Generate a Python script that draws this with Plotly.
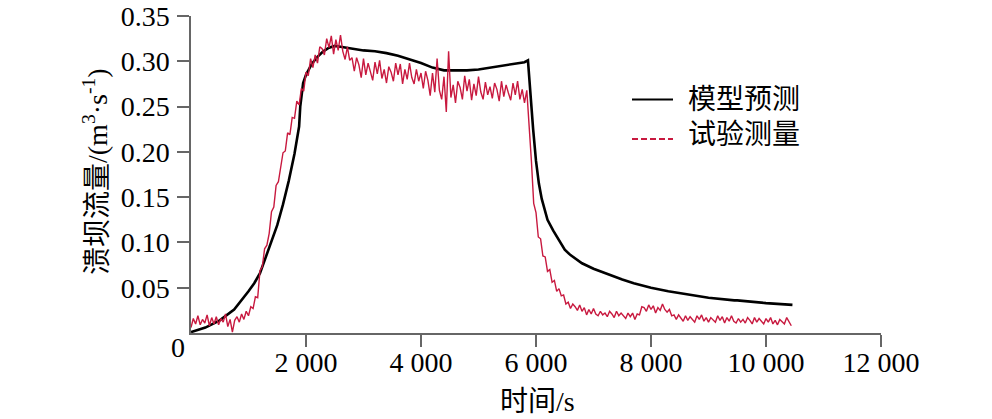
import plotly.graph_objects as go

# ---------------- data ----------------
model_t = [0, 250, 500, 750, 1000, 1100, 1200, 1300, 1400, 1500, 1600, 1700, 1800, 1850,
           1880, 1900, 1950, 2000, 2100, 2200, 2300, 2400, 2500, 2600, 2800, 3000, 3200,
           3400, 3600, 3800, 4000, 4200, 4400, 4600, 4800, 5000, 5200, 5400, 5600, 5800,
           5860, 5900, 5950, 6000, 6050, 6100, 6200, 6300, 6400, 6500, 6600, 6800, 7000,
           7200, 7500, 7700, 8000, 8300, 8500, 8850, 9000, 9450, 9500, 10000, 10460]
model_q = [0.001, 0.006, 0.014, 0.026, 0.046, 0.055, 0.066, 0.083, 0.100, 0.119, 0.142,
           0.168, 0.198, 0.215, 0.228, 0.250, 0.276, 0.285, 0.297, 0.305, 0.311, 0.315,
           0.317, 0.316, 0.314, 0.312, 0.311, 0.309, 0.306, 0.302, 0.298, 0.293, 0.290,
           0.290, 0.290, 0.291, 0.293, 0.295, 0.297, 0.299, 0.301, 0.265, 0.225, 0.190,
           0.165, 0.148, 0.125, 0.113, 0.102, 0.092, 0.086, 0.077, 0.071, 0.066, 0.059,
           0.055, 0.050, 0.046, 0.044, 0.040, 0.039, 0.036, 0.036, 0.033, 0.031]

meas_t = [
    0, 40, 80, 120, 160, 200, 240, 280, 320, 360,
    400, 440, 480, 520, 560, 600, 640, 680, 720, 760,
    800, 840, 880, 920, 960, 1000, 1040, 1080, 1120, 1160,
    1200, 1240, 1280, 1320, 1360, 1400, 1440, 1480, 1520, 1560,
    1600, 1640, 1680, 1720, 1760, 1800, 1840, 1880, 1920, 1960,
    2000, 2040, 2080, 2120, 2160, 2200, 2240, 2280, 2320, 2360,
    2400, 2440, 2480, 2520, 2560, 2600, 2640, 2680, 2720, 2760,
    2800, 2840, 2880, 2920, 2960, 3000, 3040, 3080, 3120, 3160,
    3200, 3240, 3280, 3320, 3360, 3400, 3440, 3480, 3520, 3560,
    3600, 3640, 3680, 3720, 3760, 3800, 3840, 3880, 3920, 3960,
    4000, 4040, 4080, 4120, 4160, 4200, 4240, 4280, 4320, 4360,
    4400, 4440, 4480, 4520, 4560, 4600, 4640, 4680, 4720, 4760,
    4800, 4840, 4880, 4920, 4960, 5000, 5040, 5080, 5120, 5160,
    5200, 5240, 5280, 5320, 5360, 5400, 5440, 5480, 5520, 5560,
    5600, 5640, 5680, 5720, 5760, 5800, 5840, 5880, 5920, 5960,
    6000, 6040, 6080, 6120, 6160, 6200, 6240, 6280, 6320, 6360,
    6400, 6440, 6480, 6520, 6560, 6600, 6640, 6680, 6720, 6760,
    6800, 6840, 6880, 6920, 6960, 7000, 7040, 7080, 7120, 7160,
    7200, 7240, 7280, 7320, 7360, 7400, 7440, 7480, 7520, 7560,
    7600, 7640, 7680, 7720, 7760, 7800, 7840, 7880, 7920, 7960,
    8000, 8040, 8080, 8120, 8160, 8200, 8240, 8280, 8320, 8360,
    8400, 8440, 8480, 8520, 8560, 8600, 8640, 8680, 8720, 8760,
    8800, 8840, 8880, 8920, 8960, 9000, 9040, 9080, 9120, 9160,
    9200, 9240, 9280, 9320, 9360, 9400, 9440, 9480, 9520, 9560,
    9600, 9640, 9680, 9720, 9760, 9800, 9840, 9880, 9920, 9960,
    10000, 10040, 10080, 10120, 10160, 10200, 10240, 10280, 10320, 10360,
    10400, 10440,
]
meas_q = [
    0.006, 0.016, 0.010, 0.019, 0.009, 0.015, 0.011, 0.020, 0.008, 0.017,
    0.010, 0.018, 0.009, 0.016, 0.012, 0.021, 0.007, 0.015, 0.001, 0.014,
    0.018, 0.012, 0.021, 0.015, 0.024, 0.019, 0.029, 0.027, 0.040, 0.039,
    0.069, 0.073, 0.093, 0.097, 0.110, 0.134, 0.139, 0.163, 0.167, 0.184,
    0.199, 0.201, 0.221, 0.219, 0.238, 0.237, 0.256, 0.252, 0.270, 0.267,
    0.288, 0.284, 0.303, 0.293, 0.307, 0.298, 0.316, 0.314, 0.307, 0.325,
    0.315, 0.328, 0.308, 0.324, 0.312, 0.329, 0.311, 0.302, 0.316, 0.301,
    0.304, 0.289, 0.304, 0.296, 0.282, 0.303, 0.285, 0.298, 0.288, 0.279,
    0.299, 0.286, 0.301, 0.281, 0.291, 0.276, 0.294, 0.288, 0.278, 0.298,
    0.285, 0.297, 0.275, 0.291, 0.280, 0.298, 0.282, 0.275, 0.291, 0.278,
    0.287, 0.270, 0.289, 0.279, 0.262, 0.287, 0.266, 0.303, 0.268, 0.258,
    0.283, 0.244, 0.311, 0.260, 0.274, 0.254, 0.278, 0.271, 0.258, 0.284,
    0.267, 0.280, 0.257, 0.275, 0.262, 0.283, 0.266, 0.258, 0.277, 0.263,
    0.272, 0.259, 0.276, 0.269, 0.256, 0.278, 0.261, 0.274, 0.265, 0.257,
    0.276, 0.263, 0.278, 0.258, 0.269, 0.254, 0.268, 0.232, 0.190, 0.143,
    0.133, 0.106, 0.104, 0.085, 0.084, 0.068, 0.070, 0.056, 0.058, 0.046,
    0.049, 0.041, 0.042, 0.032, 0.034, 0.027, 0.032, 0.029, 0.025, 0.031,
    0.024, 0.028, 0.020, 0.026, 0.021, 0.027, 0.021, 0.019, 0.024, 0.020,
    0.022, 0.018, 0.024, 0.021, 0.017, 0.024, 0.019, 0.022, 0.019, 0.016,
    0.022, 0.018, 0.022, 0.015, 0.021, 0.020, 0.029, 0.028, 0.024, 0.031,
    0.026, 0.030, 0.022, 0.028, 0.025, 0.032, 0.026, 0.023, 0.026, 0.019,
    0.020, 0.015, 0.020, 0.017, 0.013, 0.019, 0.014, 0.018, 0.015, 0.012,
    0.019, 0.015, 0.020, 0.013, 0.017, 0.012, 0.017, 0.015, 0.012, 0.019,
    0.014, 0.018, 0.011, 0.017, 0.013, 0.019, 0.013, 0.011, 0.016, 0.012,
    0.015, 0.011, 0.017, 0.014, 0.010, 0.017, 0.012, 0.016, 0.013, 0.010,
    0.016, 0.012, 0.017, 0.010, 0.014, 0.009, 0.015, 0.013, 0.010, 0.017,
    0.012, 0.008,
]

x_ticks = [2000, 4000, 6000, 8000, 10000, 12000]
x_ticktext = ["2 000", "4 000", "6 000", "8 000", "10 000", "12 000"]
y_ticks = [0.05, 0.10, 0.15, 0.20, 0.25, 0.30, 0.35]
y_ticktext = ["0.05", "0.10", "0.15", "0.20", "0.25", "0.30", "0.35"]

series_names = ["模型预测", "试验测量"]
x_title = "时间/s"
y_title = "溃坝流量/(m<sup>3</sup>·s<sup>-1</sup>)"

# ---------------- style ----------------
RED = "#C8193F"
AXIS = "#666666"
FONT = "Liberation Serif, Noto Sans CJK SC, serif"

fig = go.Figure()
fig.add_trace(go.Scatter(x=model_t, y=model_q, mode="lines", name=series_names[0],
                         line=dict(color="black", width=2.6), showlegend=False))
fig.add_trace(go.Scatter(x=meas_t, y=meas_q, mode="lines", name=series_names[1],
                         line=dict(color=RED, width=1.4), showlegend=False))

axis_common = dict(showgrid=False, zeroline=False, showline=True, linecolor=AXIS,
                   linewidth=1.5, ticks="outside", ticklen=12, tickcolor=AXIS,
                   tickwidth=1.5, tickfont=dict(size=28), automargin=False)

fig.update_layout(
    width=992, height=419,
    margin=dict(l=191, r=111, t=16, b=86, autoexpand=False),
    paper_bgcolor="white", plot_bgcolor="white",
    font=dict(family=FONT, size=28, color="black"),
    xaxis=dict(range=[0, 12000], tickvals=x_ticks, ticktext=x_ticktext,
               ticklabelstandoff=-8, **axis_common),
    yaxis=dict(range=[0, 0.35], tickvals=y_ticks, ticktext=y_ticktext,
               ticklabelstandoff=2, **axis_common),
)

# origin label
fig.add_annotation(x=0, y=0, xref="x", yref="y", text="0", showarrow=False,
                   xanchor="center", yanchor="middle", xshift=-13, yshift=-14,
                   font=dict(size=28))
# axis titles
fig.add_annotation(x=(537.5 - 191) / 690, y=(333 - 401) / 317, xref="paper", yref="paper",
                   text=x_title, showarrow=False, xanchor="center", yanchor="middle",
                   font=dict(size=28))
fig.add_annotation(x=(95 - 191) / 690, y=(333 - 172) / 317, xref="paper", yref="paper",
                   text=y_title, showarrow=False, textangle=-90, xanchor="center",
                   yanchor="middle", font=dict(size=28))

# legend (drawn manually)
lx0, lx1 = (632 - 191) / 690, (673 - 191) / 690
ly_black, ly_red = (333 - 99.5) / 317, (333 - 139) / 317
fig.add_shape(type="line", xref="paper", yref="paper", x0=lx0, x1=lx1, y0=ly_black, y1=ly_black,
              line=dict(color="black", width=2.2))
fig.add_shape(type="line", xref="paper", yref="paper", x0=lx0, x1=lx1, y0=ly_red, y1=ly_red,
              line=dict(color=RED, width=2.2, dash="6px,3px"))
fig.add_annotation(x=(686 - 191) / 690, y=(333 - 99) / 317, xref="paper", yref="paper",
                   text=series_names[0], showarrow=False, xanchor="left", yanchor="middle",
                   font=dict(size=28))
fig.add_annotation(x=(686 - 191) / 690, y=(333 - 134) / 317, xref="paper", yref="paper",
                   text=series_names[1], showarrow=False, xanchor="left", yanchor="middle",
                   font=dict(size=28))

fig.write_html("out.html", config={"displayModeBar": False},
               post_script="document.body.style.margin='0';document.body.style.overflow='hidden';")
